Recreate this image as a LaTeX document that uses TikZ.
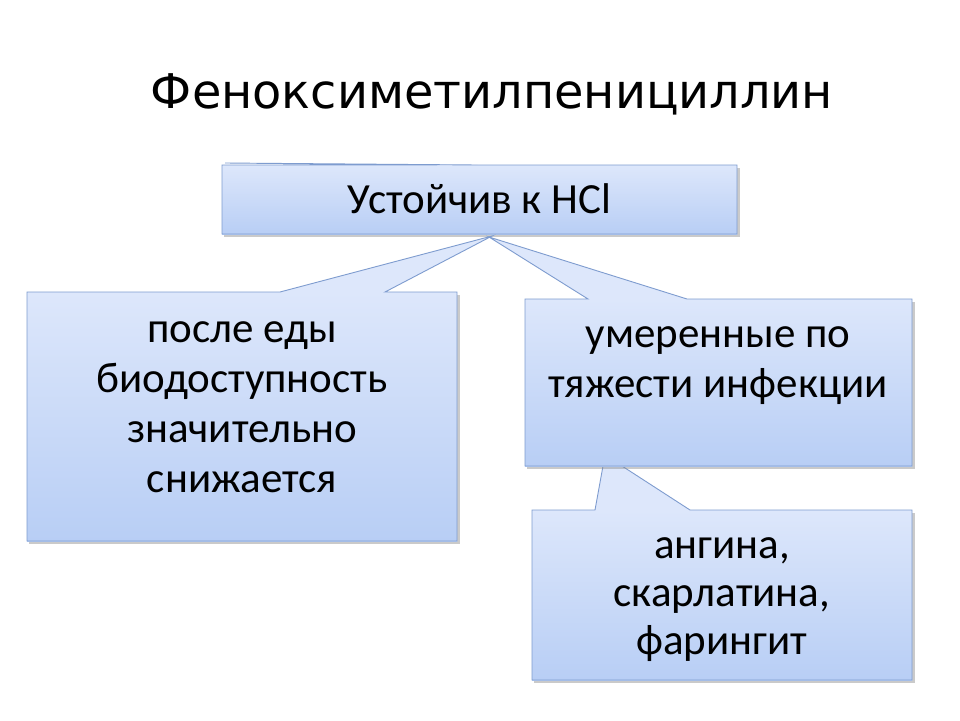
\documentclass[tikz,border=0pt]{standalone}
\usepackage{fontspec}
\setmainfont{Carlito}
\newfontfamily\titlefont{DejaVu Sans}
\definecolor{boxtop}{HTML}{DDE7FB}
\definecolor{boxbot}{HTML}{B8CEF5}
\definecolor{boxline}{HTML}{7E9CCF}
\definecolor{shadowc}{HTML}{8A8A8A}
\tikzset{
  bodyfill/.style={top color=boxtop, bottom color=boxbot, draw=none},
  ptrfill/.style={fill=boxtop, draw=none},
  outline/.style={draw=boxline, line width=0.9pt, line join=miter},
  shadowpath/.style={fill=shadowc, fill opacity=0.45, draw=none},
  boxtext/.style={font=\fontsize{43}{50}\selectfont, align=center, inner sep=0pt, text=black},
}
\begin{document}
\begin{tikzpicture}[x=1pt,y=-1pt]
\useasboundingbox[fill=white] (0,0) rectangle (960,720);
% title
\node[font=\titlefont\fontsize{47.8}{56}\selectfont, anchor=base] (title) at (492,108) {Феноксиметилпенициллин};

% ---------- top box ----------
\fill[shadowpath] (224,168) rectangle (740,237);
\fill[ptrfill] (437,165) -- (225,163) -- (478,165) -- cycle;
\fill[bodyfill] (222,165) rectangle (737,234);
\draw[outline] (222,165) -- (437,165) -- (225,163) -- (478,165) -- (737,165) -- (737,234) -- (222,234) -- cycle;
\node[boxtext, anchor=base] (t1) at (479.5,213) {Устойчив к HCl};

% ---------- left box ----------
\fill[shadowpath] (29,295) rectangle (460,544);
\fill[ptrfill] (280,292) -- (492,236) -- (385,292) -- cycle;
\fill[bodyfill] (27,292) rectangle (457,541);
\draw[outline] (27,292) -- (280,292) -- (492,236) -- (385,292) -- (457,292) -- (457,541) -- (27,541) -- cycle;
\node[boxtext, anchor=base] (t2) at (242,492) {после еды\\биодоступность\\значительно\\снижается};

% ---------- bottom right box ----------
\fill[shadowpath] (534,513) rectangle (915,683);
\fill[ptrfill] (595,510) -- (605,455) -- (690,510) -- cycle;
\fill[bodyfill] (532,510) rectangle (912,680);
\draw[outline] (532,510) -- (595,510) -- (605,455) -- (690,510) -- (912,510) -- (912,680) -- (532,680) -- cycle;
\node[boxtext, anchor=base, font=\fontsize{43}{48}\selectfont] (t4) at (722,654) {ангина,\\скарлатина,\\фарингит};

% ---------- right box ----------
\fill[shadowpath] (527,302) rectangle (915,469);
\fill[ptrfill] (588,299) -- (489,237) -- (687,299) -- cycle;
\fill[bodyfill] (525,299) rectangle (912,466);
\draw[outline] (525,299) -- (588,299) -- (489,237) -- (687,299) -- (912,299) -- (912,466) -- (525,466) -- cycle;
\node[boxtext, anchor=base] (t3) at (718,397) {умеренные по\\тяжести инфекции};
\end{tikzpicture}
\end{document}
